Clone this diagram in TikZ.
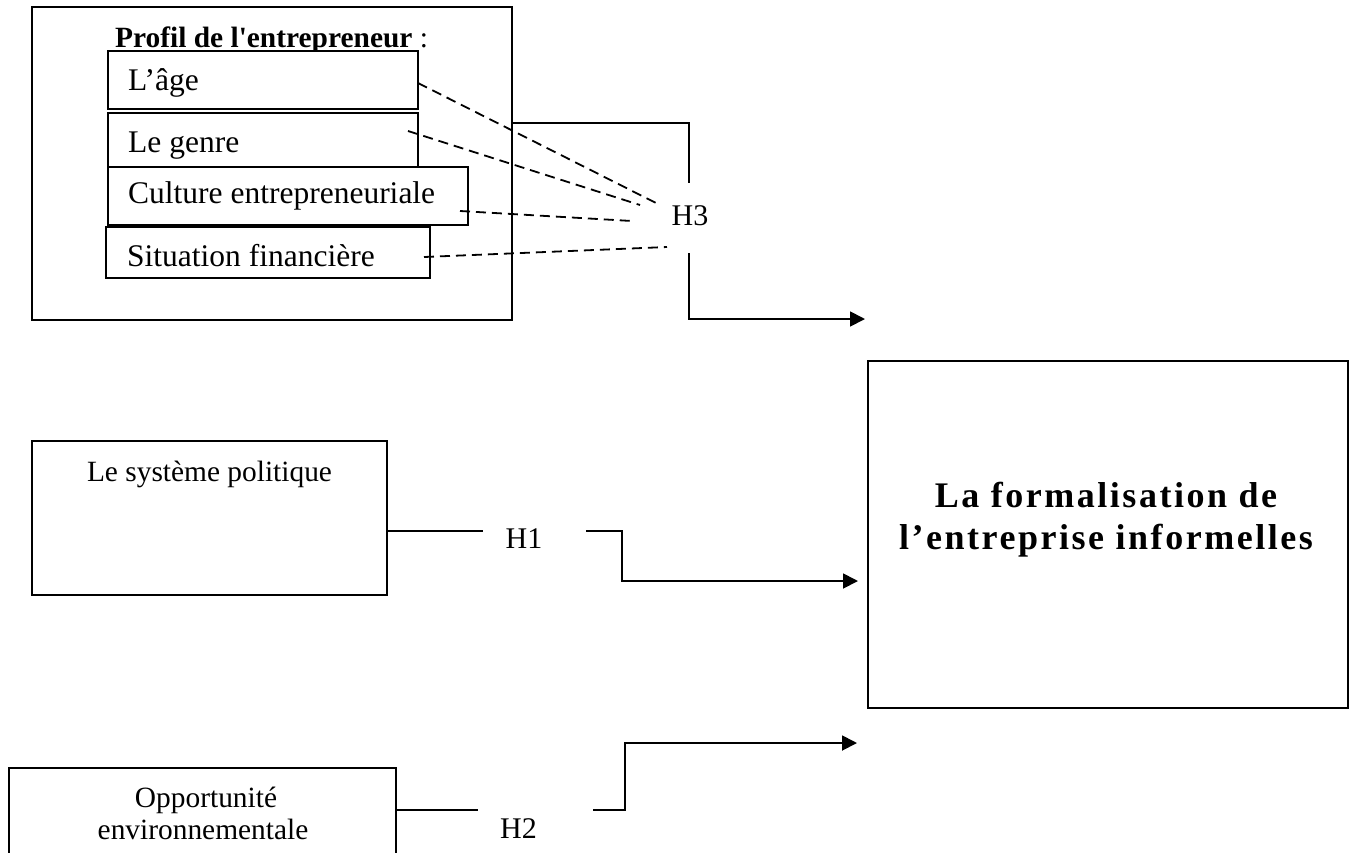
\documentclass[tikz,border=0pt]{standalone}
\usepackage{fontspec}
\setmainfont{Liberation Serif}
\usetikzlibrary{arrows.meta,calc}

\begin{document}
\begin{tikzpicture}[x=1pt,y=-1pt,
  box/.style={draw, line width=1.8pt, fill=white, inner sep=0pt, outer sep=0pt},
  varbox/.style={box, anchor=north west},
  lbl/.style={inner sep=0pt, anchor=base west, font=\fontsize{31.5}{36}\selectfont},
  small/.style={inner sep=0pt, anchor=base, font=\fontsize{29.4}{34}\selectfont},
  hyp/.style={inner sep=0pt, anchor=base, font=\fontsize{30}{34}\selectfont},
  ttl/.style={inner sep=0pt, anchor=base, font=\fontsize{36}{42}\selectfont\bfseries\addfontfeature{LetterSpace=7}},
  link/.style={line width=1.8pt},
  dlink/.style={line width=1.8pt, dash pattern=on 10pt off 6pt},
  arr/.style={link, -{Triangle[length=15pt,width=15pt]}},
]
\useasboundingbox (0,0) rectangle (1354,852);
\clip (0,0) rectangle (1354,852);

% entrepreneur profile block
\node[varbox, minimum width=480pt, minimum height=313pt] (profil) at (32,7) {};
\node[small, anchor=base west] (ptitle) at (115,47) {\textbf{Profil de l\textquotesingle entrepreneur} :};

\node[varbox, minimum width=310pt, minimum height=58pt] (age) at (108,51) {};
\node[lbl] (tage) at (128,90) {L’âge};
\node[varbox, minimum width=310pt, minimum height=54pt] (genre) at (108,113) {};
\node[lbl] (tgenre) at (128,152) {Le genre};
\node[varbox, minimum width=360pt, minimum height=58pt] (culture) at (108,167) {};
\node[lbl] (tculture) at (128,203) {Culture entrepreneuriale};
\node[varbox, minimum width=324pt, minimum height=51pt] (situation) at (106,227) {};
\node[lbl] (tsituation) at (127,266) {Situation financière};

% hypothesis H3
\node[hyp] (h3) at (690,225) {H3};
\coordinate (d1) at (660,205);
\coordinate (d2) at (640,205);
\coordinate (d3) at (632,221);
\coordinate (d4) at (667,247);
\draw[dlink] ([yshift=-3pt]age.east) -- (d1);
\draw[dlink] ($(genre.east)+(-10,-9)$) -- (d2);
\draw[dlink] ($(culture.east)+(-8,15)$) -- (d3);
\draw[dlink] ($(situation.east)+(-6,4.5)$) -- (d4);

\coordinate (h3top) at (689,183);
\coordinate (h3bot) at (689,253);
\coordinate (h3tip) at (865,319);
\draw[link] (profil.east |- 0,123) -| (h3top);
\draw[arr] (h3bot) |- (h3tip);

% dependent variable
\node[varbox, minimum width=480pt, minimum height=347pt] (target) at (868,361) {};
\node[ttl] (t1) at (1106,507) {La formalisation de};
\node[ttl] (t2) at (1106,549) {l’entreprise informelles};

% political system and H1
\node[varbox, minimum width=355pt, minimum height=154pt] (pol) at (32,441) {};
\node[small] (tpol) at (209.5,481) {Le système politique};
\node[hyp] (h1) at (524,548) {H1};
\coordinate (h1a) at (483,531);
\coordinate (h1b) at (586,531);
\coordinate (h1tip) at (858,581);
\draw[link] (pol.east |- h1a) -- (h1a);
\draw[arr] (h1b) -- ++(36,0) |- (h1tip);

% environmental opportunity and H2
\node[varbox, minimum width=387pt, minimum height=120pt] (opp) at (9,768) {};
\node[small] (topp1) at (206,807) {Opportunité};
\node[small] (topp2) at (203,839) {environnementale};
\node[hyp] (h2) at (518.5,838) {H2};
\coordinate (h2a) at (478,810);
\coordinate (h2b) at (593,810);
\coordinate (h2tip) at (857,743);
\draw[link] (opp.east |- h2a) -- (h2a);
\draw[arr] (h2b) -- ++(32,0) |- (h2tip);
\end{tikzpicture}
\end{document}
